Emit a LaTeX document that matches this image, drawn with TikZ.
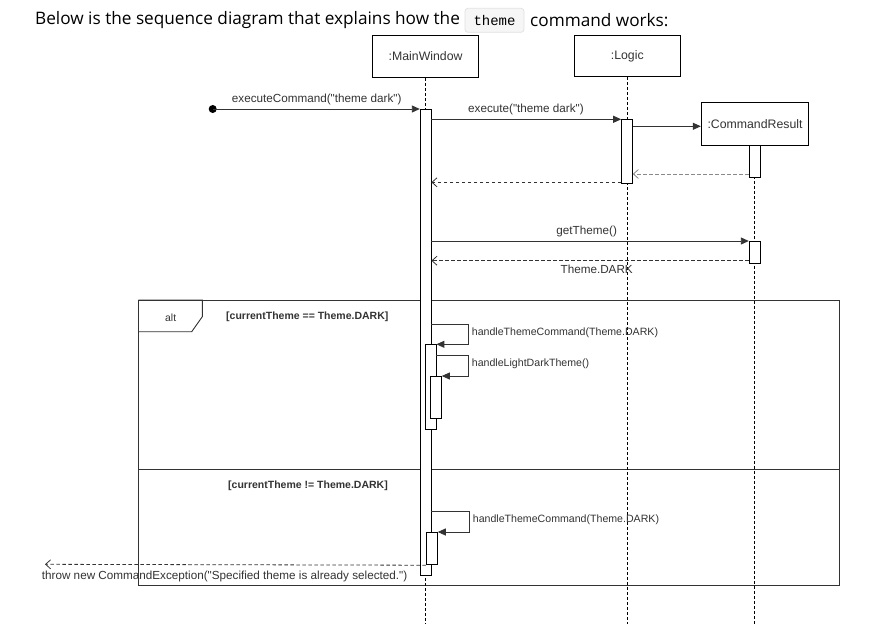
\documentclass[tikz,border=0pt]{standalone}
\usepackage{fontspec}
\usetikzlibrary{arrows.meta,calc}
\newfontfamily\titlefont{Open Sans}
\newfontfamily\diafont{Liberation Sans}
\newfontfamily\codefont{Liberation Mono}
\definecolor{codebg}{HTML}{F6F6F6}
\definecolor{codeborder}{HTML}{E2E2E2}
\definecolor{linec}{HTML}{333333}
\definecolor{retgray}{HTML}{8A8A8A}
\tikzset{
  titletext/.style={inner sep=0, font=\titlefont\fontsize{17.2pt}{20pt}\selectfont, text=black},
  codebox/.style={draw=codeborder, fill=codebg, rounded corners=3pt, line width=0.8pt, minimum width=59pt, minimum height=24pt, inner sep=0, font=\codefont\fontsize{14pt}{16pt}\selectfont},
  head/.style={draw=black, fill=white, line width=0.9pt, inner sep=0, font=\diafont\fontsize{12.3pt}{14pt}\selectfont, text=linec},
  actbar/.style={draw=black, fill=white, line width=0.9pt, inner sep=0, minimum width=10.7pt},
  life/.style={draw=black, line width=0.8pt, dash pattern=on 3pt off 2pt},
  msg/.style={draw=linec, line width=0.9pt, -{Triangle[length=8pt,width=7pt]}},
  ret/.style={draw=linec, line width=0.8pt, dash pattern=on 3.5pt off 2.5pt, -{Straight Barb[length=5pt,width=9pt,line width=0.8pt]}},
  retlight/.style={ret, draw=retgray},
  lbl/.style={inner sep=0, font=\diafont\fontsize{11.7pt}{14pt}\selectfont, text=linec},
  slbl/.style={inner sep=0, font=\diafont\fontsize{10.6pt}{12pt}\selectfont, text=linec, anchor=west},
  guard/.style={inner sep=0, font=\diafont\bfseries\fontsize{10.5pt}{12pt}\selectfont, text=linec, anchor=west},
  framel/.style={draw=linec, line width=0.9pt},
}
\begin{document}
\begin{tikzpicture}[x=1pt,y=-1pt]
\useasboundingbox[fill=white] (0,0) rectangle (896,624);

% title line
\node[titletext, anchor=west] (t1) at (35,20) {Below is the sequence diagram that explains how the};
\node[codebox] (tcode) at (494.5,20.3) {theme};
\node[titletext, anchor=west] (t2) at (530,20) {command works:};

% alt frame
\draw[framel] (138.3,300) rectangle (839.3,585.7);
\coordinate (divl) at (138.3,469.5);
\coordinate (divr) at (839.3,469.5);
\draw[framel] (divl) -- (divr);
\draw[framel] (138.3,300) -- (202.3,300) -- (202.3,316.7) -- (191.7,331.7) -- (138.3,331.7);
\node[inner sep=0, font=\diafont\fontsize{10.4pt}{12pt}\selectfont, text=linec] (alt) at (170.7,317.3) {alt};
\node[guard] (g1) at (226,317) {[currentTheme == Theme.DARK]};
\node[guard] (g2) at (228,486) {[currentTheme != Theme.DARK]};

% heads
\node[head, minimum width=106pt, minimum height=42pt] (mw) at (425.6,56.3) {:MainWindow};
\node[head, minimum width=106.7pt, minimum height=41.4pt] (lg) at (627.3,56) {:Logic};
\node[head, minimum width=107.4pt, minimum height=42.6pt] (cr) at (755,124) {:CommandResult};

% lifelines
\coordinate (mwend) at (425.6,624);
\coordinate (lgend) at (627.3,624);
\coordinate (crend) at (754.6,624);
\draw[life] (mw.south) -- (mwend);
\draw[life] (lg.south) -- (lgend);
\draw[life] (cr.south -| crend) -- (crend);

% activation bars
\node[actbar, minimum height=466pt, anchor=north] (mwbar) at (425.6,109) {};
\node[actbar, minimum height=64pt, anchor=north] (lgbar) at (627,119.3) {};
\node[actbar, minimum height=31.4pt, minimum width=11pt, anchor=north] (crbar1) at (754.8,145.3) {};
\node[actbar, minimum height=21.7pt, anchor=north] (crbar2) at (754.6,241) {};
\node[actbar, minimum height=84.5pt, minimum width=10.3pt, anchor=north] (nb1) at (430.8,344.3) {};
\node[actbar, minimum height=42.3pt, anchor=north] (nb2) at (436,376) {};
\node[actbar, minimum height=32.3pt, minimum width=11pt, anchor=north] (nb3) at (431.8,532) {};

% found message
\node[circle, fill=black, minimum size=8pt, inner sep=0] (dot) at (212.7,109) {};
\draw[msg] (dot.center) -- (mwbar.north west);
\node[lbl] (l1) at (316.7,99) {executeCommand("theme dark")};

% execute
\draw[msg] (mwbar.east |- lgbar.north) -- (lgbar.north west);
\node[lbl] (l2) at (526,109) {execute("theme dark")};

% create CommandResult
\coordinate (ycr) at (0,126.3);
\draw[msg] (lgbar.east |- ycr) -- (cr.west |- ycr);

% returns
\coordinate (yr1) at (0,174);
\draw[retlight] (crbar1.west |- yr1) -- (lgbar.east |- yr1);
\coordinate (yr2) at (0,182.3);
\draw[ret] (lgbar.west |- yr2) -- (mwbar.east |- yr2);

% getTheme
\draw[msg] (mwbar.east |- crbar2.north) -- (crbar2.north west);
\node[lbl] (l3) at (586.7,231) {getTheme()};
\coordinate (yr3) at (0,260.7);
\draw[ret] (crbar2.west |- yr3) -- (mwbar.east |- yr3);
\node[lbl] (l4) at (596.7,269.3) {Theme.DARK};

% self calls
\coordinate (ys1) at (0,324);
\draw[msg] (mwbar.east |- ys1) -- ++(37.5,0) |- (nb1.north east);
\node[slbl] (l5) at (471.7,332.7) {handleThemeCommand(Theme.DARK)};
\coordinate (ys2) at (0,355.3);
\draw[msg] (nb1.east |- ys2) -- ++(32.2,0) |- (nb2.north east);
\node[slbl] (l6) at (471.7,363.3) {handleLightDarkTheme()};
\coordinate (ys3) at (0,511.7);
\draw[msg] (mwbar.east |- ys3) -- ++(38,0) |- (nb3.north east);
\node[slbl] (l7) at (472.7,520) {handleThemeCommand(Theme.DARK)};

% exception
\coordinate (exitpt) at (45,564.3);
\draw[ret] (nb3.south west) -- (exitpt);
\node[lbl, anchor=west] (l8) at (41.7,576.7) {throw new CommandException("Specified theme is already selected.")};
\end{tikzpicture}
\end{document}
